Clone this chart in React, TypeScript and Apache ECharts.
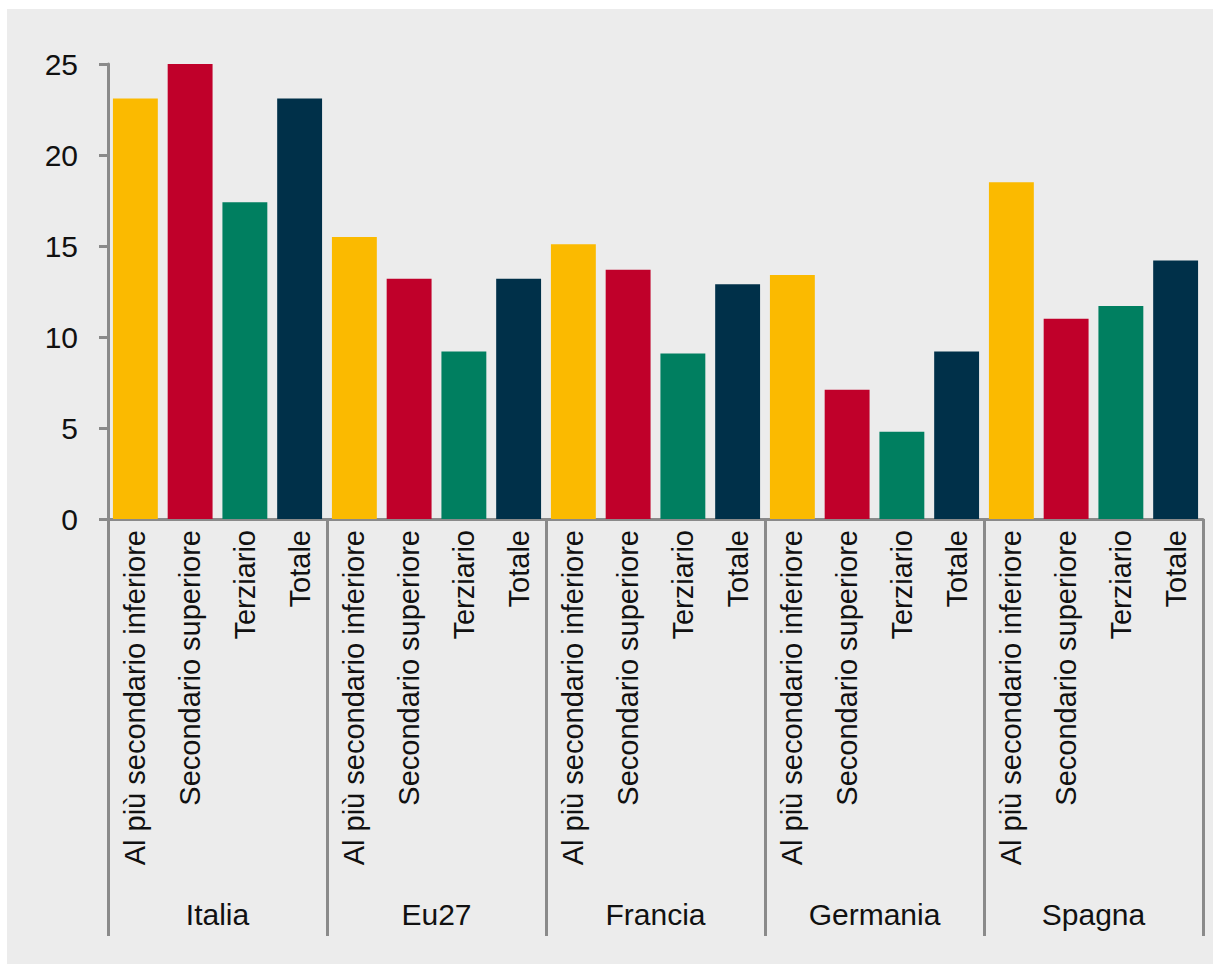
import React, { useEffect, useRef } from "react";
import * as echarts from "echarts";

const groups = ["Italia", "Eu27", "Francia", "Germania", "Spagna"];
const levels = ["Al più secondario inferiore", "Secondario superiore", "Terziario", "Totale"];
const levelColors = ["#FBBA00", "#C0002A", "#007F60", "#003049"];

const italia = [23.1, 25.0, 17.4, 23.1];
const eu27 = [15.5, 13.2, 9.2, 13.2];
const francia = [15.1, 13.7, 9.1, 12.9];
const germania = [13.4, 7.1, 4.8, 9.2];
const spagna = [18.5, 11.0, 11.7, 14.2];

const groupValues = [italia, eu27, francia, germania, spagna];

export default function App() {
  const ref = useRef<HTMLDivElement>(null);

  useEffect(() => {
    document.body.style.margin = "0";
    if (!ref.current) return;
    const chart = echarts.init(ref.current, null, { renderer: "svg" });

    const keys: string[] = [];
    const data: any[] = [];
    groups.forEach((g, gi) => {
      levels.forEach((l, li) => {
        keys.push(g + "|" + l);
        data.push({ value: groupValues[gi][li], itemStyle: { color: levelColors[li] } });
      });
    });

    const axisGrey = "#8a8a8a";
    const font = "'Liberation Sans', Arial, sans-serif";

    chart.setOption({
      animation: false,
      backgroundColor: "transparent",
      grid: { left: 101, right: 10, top: 55, bottom: 445, containLabel: false },
      xAxis: [
        {
          type: "category",
          data: keys,
          position: "bottom",
          axisLine: { show: true, lineStyle: { color: axisGrey, width: 3 } },
          axisTick: { show: false },
          axisLabel: {
            interval: 0,
            rotate: 90,
            margin: 11,
            fontSize: 29,
            fontFamily: font,
            color: "#111",
            formatter: (v: string) => v.split("|")[1],
          },
        },
        {
          type: "category",
          data: groups,
          position: "bottom",
          axisLine: { show: false },
          axisTick: {
            show: true,
            interval: 0,
            length: 417,
            lineStyle: { color: axisGrey, width: 3 },
          },
          axisLabel: {
            interval: 0,
            margin: 380,
            fontSize: 30,
            fontFamily: font,
            color: "#111",
          },
        },
      ],
      yAxis: {
        type: "value",
        min: 0,
        max: 25,
        interval: 5,
        splitLine: { show: false },
        axisLine: { show: true, lineStyle: { color: axisGrey, width: 3 } },
        axisTick: { show: true, length: 9, lineStyle: { color: axisGrey, width: 3 } },
        axisLabel: { margin: 30, fontSize: 30, fontFamily: font, color: "#111" },
      },
      series: [
        {
          type: "bar",
          xAxisIndex: 0,
          data,
          barCategoryGap: "18%",
        },
      ],
    });

    return () => chart.dispose();
  }, []);

  return (
    <div style={{ position: "absolute", left: 0, top: 0, width: 1213, height: 964, background: "#fff" }}>
      <div
        ref={ref}
        style={{ position: "absolute", left: 7, top: 9, width: 1206, height: 955, background: "#ECECEC" }}
      />
    </div>
  );
}
